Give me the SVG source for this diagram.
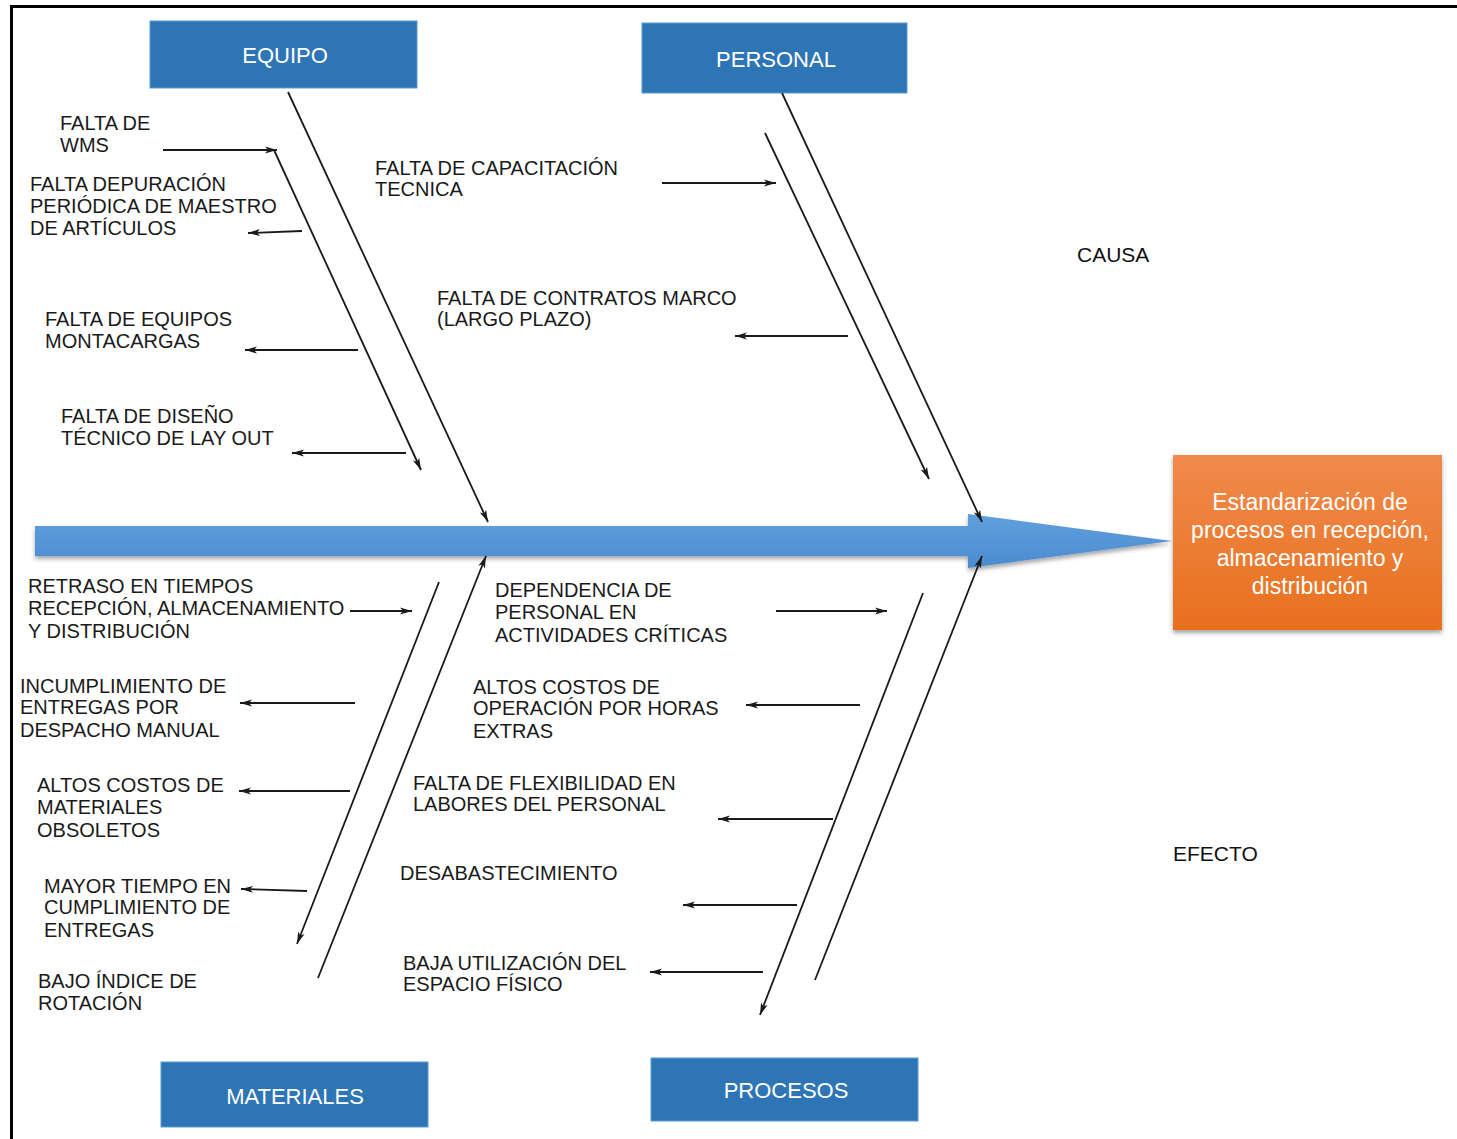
<svg xmlns="http://www.w3.org/2000/svg" width="1457" height="1139" viewBox="0 0 1457 1139">
<style>
.lbl{font-family:"Liberation Sans",Arial,sans-serif;font-size:20px;fill:#1a1a1a}
.cat rect{fill:#2E75B6;stroke:#5B9BD5;stroke-width:1}
.cat text{font-family:"Liberation Sans",Arial,sans-serif;font-size:22px;fill:#fff;text-anchor:middle}
.con line{stroke:#1a1a1a;stroke-width:1.8;marker-end:url(#ah)}
.eff{font-family:"Liberation Sans",Arial,sans-serif;font-size:23px;fill:#fff;text-anchor:middle}
.side{font-family:"Liberation Sans",Arial,sans-serif;font-size:21px;fill:#111}
</style>
<defs>
<marker id="ah" markerUnits="userSpaceOnUse" markerWidth="13" markerHeight="9" refX="12" refY="4.5" orient="auto">
<path d="M0,1 L12,4.5 L0,8 L3,4.5 Z" fill="#1a1a1a"/>
</marker>
<linearGradient id="gb" x1="0" y1="0" x2="0" y2="1">
<stop offset="0" stop-color="#62A0DC"/>
<stop offset="1" stop-color="#4A8BD0"/>
</linearGradient>
<linearGradient id="go" x1="0" y1="0" x2="0" y2="1">
<stop offset="0" stop-color="#F08A4C"/>
<stop offset="1" stop-color="#E8701E"/>
</linearGradient>
<filter id="sh" x="-5%" y="-20%" width="110%" height="150%">
<feDropShadow dx="0" dy="3" stdDeviation="2" flood-color="#000" flood-opacity="0.35"/>
</filter>
</defs>
<rect width="1457" height="1139" fill="#fff"/>
<line x1="11.5" y1="5" x2="11.5" y2="1139" stroke="#000" stroke-width="3"/>
<line x1="10" y1="6.5" x2="1457" y2="6.5" stroke="#000" stroke-width="3"/>

<g id="spine">
<path d="M35,526 L968,526 L968,514 L1172,541 L968,568 L968,556 L35,556 Z" fill="url(#gb)" filter="url(#sh)"/>
</g>

<g id="effect">
<rect x="1173" y="455" width="269" height="175" fill="url(#go)" filter="url(#sh)"/>
<text class="eff" x="1310" y="510">Estandarización de</text>
<text class="eff" x="1310" y="538">procesos en recepción,</text>
<text class="eff" x="1310" y="566">almacenamiento y</text>
<text class="eff" x="1310" y="594">distribución</text>
</g>

<g id="equipo" class="cat"><rect x="150" y="21" width="267" height="67"/><text x="285" y="63">EQUIPO</text></g>
<g id="personal" class="cat"><rect x="642" y="23" width="265" height="70"/><text x="776" y="67">PERSONAL</text></g>
<g id="materiales" class="cat"><rect x="161" y="1062" width="267" height="65"/><text x="295" y="1104">MATERIALES</text></g>
<g id="procesos" class="cat"><rect x="651" y="1058" width="267" height="63"/><text x="786" y="1098">PROCESOS</text></g>

<g id="causa"><text class="side" x="1077" y="262">CAUSA</text></g>
<g id="efecto"><text class="side" x="1173" y="861">EFECTO</text></g>

<g id="connectors" class="con">
<line x1="288" y1="92" x2="488" y2="522"/>
<line x1="274" y1="150" x2="421" y2="470"/>
<line x1="163" y1="150" x2="277" y2="150"/>
<line x1="302" y1="231" x2="248" y2="233"/>
<line x1="358" y1="350" x2="245" y2="350"/>
<line x1="406" y1="453" x2="292" y2="453"/>
<line x1="782" y1="93" x2="982" y2="522"/>
<line x1="765" y1="133" x2="929" y2="479"/>
<line x1="662" y1="183" x2="776" y2="183"/>
<line x1="848" y1="336" x2="735" y2="336"/>
<line x1="318" y1="978" x2="486" y2="556"/>
<line x1="439" y1="582" x2="297" y2="944"/>
<line x1="350" y1="611" x2="412" y2="611"/>
<line x1="355" y1="703" x2="240" y2="703"/>
<line x1="350" y1="791" x2="239" y2="791"/>
<line x1="307" y1="891" x2="241" y2="889"/>
<line x1="815" y1="980" x2="982" y2="556"/>
<line x1="923" y1="593" x2="760" y2="1015"/>
<line x1="776" y1="611" x2="887" y2="611"/>
<line x1="860" y1="705" x2="746" y2="705"/>
<line x1="833" y1="819" x2="718" y2="819"/>
<line x1="797" y1="905" x2="683" y2="905"/>
<line x1="763" y1="972" x2="650" y2="972"/>
</g>

<g id="c-wms"><text class="lbl" x="60" y="130">FALTA DE</text><text class="lbl" x="60" y="152">WMS</text></g>
<g id="c-depuracion"><text class="lbl" x="30" y="191">FALTA DEPURACIÓN</text><text class="lbl" x="30" y="213">PERIÓDICA DE MAESTRO</text><text class="lbl" x="30" y="235">DE ARTÍCULOS</text></g>
<g id="c-montacargas"><text class="lbl" x="45" y="326">FALTA DE EQUIPOS</text><text class="lbl" x="45" y="348">MONTACARGAS</text></g>
<g id="c-layout"><text class="lbl" x="61" y="423">FALTA DE DISEÑO</text><text class="lbl" x="61" y="445">TÉCNICO DE LAY OUT</text></g>
<g id="c-capacitacion"><text class="lbl" x="375" y="175">FALTA DE CAPACITACIÓN</text><text class="lbl" x="375" y="196">TECNICA</text></g>
<g id="c-contratos"><text class="lbl" x="437" y="305">FALTA DE CONTRATOS MARCO</text><text class="lbl" x="437" y="326">(LARGO PLAZO)</text></g>
<g id="c-retraso"><text class="lbl" x="28" y="593">RETRASO EN TIEMPOS</text><text class="lbl" x="28" y="615">RECEPCIÓN, ALMACENAMIENTO</text><text class="lbl" x="28" y="638">Y DISTRIBUCIÓN</text></g>
<g id="c-incumplimiento"><text class="lbl" x="20" y="693">INCUMPLIMIENTO DE</text><text class="lbl" x="20" y="714">ENTREGAS POR</text><text class="lbl" x="20" y="737">DESPACHO MANUAL</text></g>
<g id="c-obsoletos"><text class="lbl" x="37" y="792">ALTOS COSTOS DE</text><text class="lbl" x="37" y="814">MATERIALES</text><text class="lbl" x="37" y="837">OBSOLETOS</text></g>
<g id="c-mayortiempo"><text class="lbl" x="44" y="893">MAYOR TIEMPO EN</text><text class="lbl" x="44" y="914">CUMPLIMIENTO DE</text><text class="lbl" x="44" y="937">ENTREGAS</text></g>
<g id="c-rotacion"><text class="lbl" x="38" y="988">BAJO ÍNDICE DE</text><text class="lbl" x="38" y="1010">ROTACIÓN</text></g>
<g id="c-dependencia"><text class="lbl" x="495" y="597">DEPENDENCIA DE</text><text class="lbl" x="495" y="619">PERSONAL EN</text><text class="lbl" x="495" y="642">ACTIVIDADES CRÍTICAS</text></g>
<g id="c-horasextras"><text class="lbl" x="473" y="694">ALTOS COSTOS DE</text><text class="lbl" x="473" y="715">OPERACIÓN POR HORAS</text><text class="lbl" x="473" y="738">EXTRAS</text></g>
<g id="c-flexibilidad"><text class="lbl" x="413" y="790">FALTA DE FLEXIBILIDAD EN</text><text class="lbl" x="413" y="811">LABORES DEL PERSONAL</text></g>
<g id="c-desabastecimiento"><text class="lbl" x="400" y="880">DESABASTECIMIENTO</text></g>
<g id="c-espacio"><text class="lbl" x="403" y="970">BAJA UTILIZACIÓN DEL</text><text class="lbl" x="403" y="991">ESPACIO FÍSICO</text></g>
</svg>
